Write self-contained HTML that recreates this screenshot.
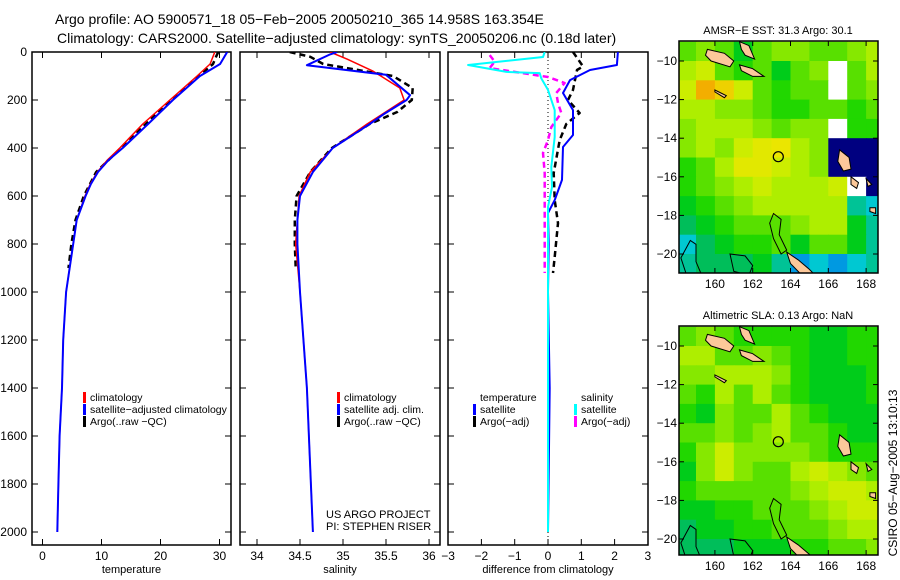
<!DOCTYPE html>
<html><head><meta charset="utf-8"><style>
body{margin:0;background:#fff}
svg{display:block;font-family:"Liberation Sans",sans-serif}
</style></head><body>
<svg id="fig" width="900" height="580" viewBox="0 0 900 580">
<defs>
<clipPath id="c1"><rect x="32" y="52" width="199" height="493"/></clipPath>
<clipPath id="c2"><rect x="240" y="52" width="200" height="493"/></clipPath>
<clipPath id="c3"><rect x="448" y="52" width="200" height="493"/></clipPath>
<clipPath id="cm1"><rect x="679" y="41" width="199" height="232"/></clipPath>
<clipPath id="cm2"><rect x="679" y="326" width="199" height="229"/></clipPath>
</defs>
<text x="55" y="24" font-size="14">Argo profile: AO 5900571_18 05−Feb−2005 20050210_365 14.958S 163.354E</text>
<text x="57" y="43" font-size="14">Climatology: CARS2000. Satellite−adjusted climatology: synTS_20050206.nc (0.18d later)</text>
<g id="g1"></g>
<g id="g2"></g>
<g id="g3"></g>
<g id="m1"></g>
<g id="m2"></g>
<text transform="translate(897,473) rotate(-90)" text-anchor="middle" font-size="12">CSIRO 05−Aug−2005 13:10:13</text>
</svg>
<script>
// ---------- profile data ----------
const tDepth = [0,50,100,200,300,400,450,500,550,600,700,800,1000,1200,1400,1600,1800,2000];
const tClim  = [29.2,28.4,26.2,21.6,17.0,13.1,11.0,9.3,8.1,7.2,5.8,5.2,4.0,3.5,3.3,2.9,2.7,2.5];
const tSat   = [31.3,30.1,26.7,22.1,17.9,13.6,11.2,9.4,8.2,7.3,5.8,5.2,4.0,3.5,3.3,2.9,2.7,2.5];
const argoDepth = [0,20,50,100,150,200,250,300,400,500,600,700,800,900];
const tArgo  = [29.8,29.4,28.9,26.5,24.3,21.8,19.6,17.5,13.3,9.1,7.0,5.6,4.9,4.4];
const sDepthSat = [0,10,55,95,180,200,260,300,400,500,600,700,800,1000,1400,2000];
const sSat   = [34.93,34.85,34.58,35.5,35.78,35.74,35.47,35.31,34.88,34.65,34.5,34.47,34.47,34.5,34.58,34.65];
const sDepthClim = [0,30,80,150,200,300,400,500,600,800,1000,1400,2000];
const sClim  = [34.85,35.05,35.35,35.66,35.71,35.28,34.88,34.62,34.49,34.45,34.5,34.58,34.65];
const sArgo  = [34.38,34.62,34.77,35.58,35.81,35.8,35.63,35.31,34.87,34.62,34.46,34.44,34.44,34.45];
const dDepthT = [0,54,75,117,171,242,346,396,533,617,671,800,1000,1400,2000];
const dTSat   = [2.1,2.07,1.26,0.66,0.45,0.75,0.75,0.45,0.42,0.2,0.0,0.02,0.0,0.05,0.0];
const dDepthTA = [0,60,75,158,200,254,300,367,504,617,713,854,921];
const dTArgo  = [0.75,1.05,0.87,0.75,0.6,0.95,0.55,0.35,0.17,0.2,0.3,0.2,0.15];
const dDepthS = [0,21,54,83,88,110,158,242,354,479,563,646,1000,2000];
const dSSat   = [-0.1,-0.15,-2.4,-1.25,-0.25,-0.2,0.0,0.2,0.2,0.1,0.12,0.0,0.0,0.0];
const dDepthSA = [13,40,67,104,129,171,213,254,313,367,421,504,646,921];
const dSArgo  = [-1.75,-1.6,-1.75,0.0,0.5,0.25,0.3,0.4,0.1,0.0,-0.15,-0.1,-0.1,-0.1];
// ---------- map data (1-degree cells, rows lat -9..-21, cols lon 158..169; -1 missing, -2 masked) ----------
const mapLon0 = 158, mapLat0 = -9;
const sstGrid = [
[0.6,0.65,0.6,0.5,0.6,0.65,0.65,0.6,0.6,0.65,0.7],
[0.7,0.75,0.6,0.55,0.6,0.5,0.6,0.65,-1,0.6,0.7],
[0.75,0.9,0.85,0.75,0.6,0.55,0.6,0.6,-1,0.6,0.65],
[0.7,0.7,0.65,0.65,0.6,0.55,0.55,0.6,0.6,0.55,0.6],
[0.65,0.7,0.7,0.7,0.65,0.6,0.65,0.65,-1,0.55,0.55],
[0.65,0.7,0.65,0.75,0.8,0.82,0.7,0.65,-2,-2,-2],
[0.55,0.6,0.7,0.8,0.8,0.75,0.7,0.65,-2,-2,-2],
[0.55,0.6,0.65,0.7,0.75,0.7,0.7,0.7,0.75,-1,-2],
[0.5,0.55,0.6,0.65,0.7,0.7,0.7,0.7,0.7,0.4,0.35],
[0.45,0.5,0.55,0.6,0.6,0.6,0.65,0.7,0.7,0.5,0.4],
[0.35,0.45,0.5,0.55,0.55,0.6,0.5,0.6,0.6,0.5,0.4],
[0.4,0.45,0.45,0.45,0.5,0.4,0.3,0.35,0.3,0.35,0.4]];
const slaGrid = [
[0.6,0.65,0.6,0.55,0.55,0.55,0.55,0.5,0.5,0.55,0.55],
[0.7,0.7,0.6,0.6,0.65,0.6,0.55,0.5,0.5,0.55,0.55],
[0.65,0.65,0.7,0.7,0.7,0.65,0.55,0.5,0.5,0.5,0.55],
[0.6,0.55,0.7,0.6,0.7,0.6,0.55,0.5,0.5,0.5,0.55],
[0.55,0.5,0.65,0.6,0.6,0.7,0.6,0.55,0.5,0.5,0.5],
[0.6,0.6,0.65,0.6,0.65,0.7,0.6,0.6,0.55,0.5,0.5],
[0.55,0.65,0.75,0.65,0.65,0.65,0.65,0.6,0.55,0.55,0.55],
[0.5,0.65,0.75,0.65,0.6,0.6,0.7,0.75,0.7,0.65,0.6],
[0.55,0.6,0.6,0.6,0.6,0.6,0.65,0.7,0.75,0.75,0.7],
[0.5,0.5,0.55,0.55,0.6,0.6,0.6,0.65,0.7,0.75,0.75],
[0.45,0.5,0.5,0.55,0.55,0.6,0.6,0.6,0.65,0.7,0.7],
[0.45,0.45,0.45,0.5,0.5,0.5,0.55,0.55,0.6,0.6,0.65]];
const islands = [
[[159.6,-9.4],[160.5,-9.6],[161.0,-10.0],[160.8,-10.3],[159.8,-10.0],[159.5,-9.7]],
[[161.3,-9.0],[161.8,-9.2],[162.1,-9.9],[161.6,-9.7],[161.4,-9.4]],
[[161.3,-10.2],[162.0,-10.4],[162.6,-10.8],[162.0,-10.8],[161.4,-10.5]],
[[160.0,-11.5],[160.6,-11.8],[160.5,-11.9],[160.0,-11.6]],
[[166.6,-14.6],[167.1,-15.0],[167.2,-15.6],[166.8,-15.7],[166.5,-15.2]],
[[167.2,-16.0],[167.6,-16.3],[167.5,-16.6],[167.2,-16.4]],
[[168.0,-16.1],[168.3,-16.4],[168.1,-16.5]],
[[168.2,-17.6],[168.5,-17.6],[168.5,-17.9],[168.2,-17.8]],
[[163.8,-19.9],[164.4,-20.3],[165.0,-20.8],[165.3,-21.1],[164.6,-21.1],[164.0,-20.5]]];
const reefs = [
[[163.1,-17.9],[163.5,-18.2],[163.4,-19.0],[163.8,-19.8],[163.5,-20.0],[163.1,-19.2],[162.9,-18.4]],
[[158.2,-20.2],[158.7,-19.3],[159.0,-19.5],[159.0,-20.4],[159.3,-21.1],[158.5,-21.1]],
[[160.8,-20.0],[161.6,-20.1],[162.0,-20.6],[161.8,-21.1],[161.0,-20.9]]];
const argoLon = 163.354, argoLat = -14.958;

const NS='http://www.w3.org/2000/svg';
function mk(par,tag,attrs){const e=document.createElementNS(NS,tag);for(const k in attrs)e.setAttribute(k,attrs[k]);par.appendChild(e);return e;}
const py = z => 52 + 0.24*z;
const p1x = t => 42.5 + 5.9*t;
const p2x = s => 257 + 86*(s-34);
const p3x = d => 548 + 33.3*d;

function frame(g,x0,x1,xt,sx,labels,title){
  const r=mk(g,'rect',{x:x0,y:52,width:x1-x0,height:493,fill:'none',stroke:'#000','stroke-width':1.5});
  
  
  for(let z=0;z<=2000;z+=200){
    const y=py(z);
    mk(g,'line',{x1:x0,x2:x0+6,y1:y,y2:y,stroke:'#000'});
    mk(g,'line',{x1:x1-6,x2:x1,y1:y,y2:y,stroke:'#000'});
    if(labels){const t=mk(g,'text',{x:27,y:y+4,'text-anchor':'end','font-size':12});t.textContent=z;
      
      }
  }
  xt.forEach(v=>{const x=sx(v);
    if(x>x0+1&&x<x1-1){mk(g,'line',{x1:x,x2:x,y1:52,y2:58,stroke:'#000'});mk(g,'line',{x1:x,x2:x,y1:539,y2:545,stroke:'#000'});}
    const t=mk(g,'text',{x:x,y:560,'text-anchor':'middle','font-size':12});t.textContent=(v<0?'−'+(-v):v);
    
    });
  const tt=mk(g,'text',{x:(x0+x1)/2,y:573,'text-anchor':'middle','font-size':11});tt.textContent=title;
  
  
}
function line(g,xs,zs,sx,color,w,dash,name,clip){
  const d=xs.map((v,i)=>(i?'L':'M')+sx(v).toFixed(1)+' '+py(zs[i]).toFixed(1)).join('');
  const p=mk(g,'path',{d:d,fill:'none',stroke:color,'stroke-width':w,'stroke-dasharray':dash||'none','clip-path':'url(#'+clip+')','stroke-linejoin':'round'});
  
  
}
function legend(g,x,y,items){
  items.forEach((it,i)=>{
    if(it[1]){const b=mk(g,'rect',{x:x,y:y+i*12-8,width:3,height:11,fill:it[1]});
      
      }
    const t=mk(g,'text',{x:x+7,y:y+i*12+1,'font-size':10.5});t.textContent=it[0];
    
    
  });
}
const g1=document.getElementById('g1'),g2=document.getElementById('g2'),g3=document.getElementById('g3');
frame(g1,32,231,[0,10,20,30],p1x,true,'temperature');
line(g1,tArgo,argoDepth,p1x,'#000',2.5,'6,4','temp-argo-line','c1');
line(g1,tClim,tDepth,p1x,'#f00',1.5,null,'temp-climatology-line','c1');
line(g1,tSat,tDepth,p1x,'#00f',2,null,'temp-satellite-line','c1');
legend(g1,83,400,[['climatology','#f00'],['satellite−adjusted climatology','#00f'],['Argo(..raw −QC)','#000']]);

frame(g2,240,440,[34,34.5,35,35.5,36],p2x,false,'salinity');
line(g2,sArgo,argoDepth,p2x,'#000',2.5,'6,4','sal-argo-line','c2');
line(g2,sClim,sDepthClim,p2x,'#f00',1.5,null,'sal-climatology-line','c2');
line(g2,sSat,sDepthSat,p2x,'#00f',2,null,'sal-satellite-line','c2');
legend(g2,337,400,[['climatology','#f00'],['satellite adj. clim.','#00f'],['Argo(..raw −QC)','#000']]);
const us=mk(g2,'text',{x:326,y:518,'font-size':11});us.textContent='US ARGO PROJECT';


const pi=mk(g2,'text',{x:326,y:530,'font-size':11});pi.textContent='PI: STEPHEN RISER';



frame(g3,448,648,[-3,-2,-1,0,1,2,3],p3x,false,'difference from climatology');
const zl=mk(g3,'line',{x1:p3x(0),x2:p3x(0),y1:52,y2:545,stroke:'#000','stroke-dasharray':'1,3'});


line(g3,dTArgo,dDepthTA,p3x,'#000',2.5,'6,4','diff-temp-argo-line','c3');
line(g3,dSArgo,dDepthSA,p3x,'#f0f',2.5,'6,4','diff-sal-argo-line','c3');
line(g3,dTSat,dDepthT,p3x,'#00f',2,null,'diff-temp-satellite-line','c3');
line(g3,dSSat,dDepthS,p3x,'#0ff',2,null,'diff-sal-satellite-line','c3');
legend(g3,473,400,[['temperature',null],['satellite','#00f'],['Argo(−adj)','#000']]);
legend(g3,574,400,[['salinity',null],['satellite','#0ff'],['Argo(−adj)','#f0f']]);

// ---------- maps ----------
function cmap(v){
  if(v===-1) return '#ffffff';
  if(v===-2) return '#000080';
  const stops=[[0,[0,0,140]],[0.2,[0,60,255]],[0.35,[0,200,210]],[0.45,[0,190,90]],[0.52,[0,210,0]],[0.62,[110,228,0]],[0.72,[190,240,0]],[0.82,[235,230,0]],[0.92,[245,160,0]],[1,[240,90,0]]];
  for(let i=1;i<stops.length;i++){if(v<=stops[i][0]){const a=stops[i-1],b=stops[i],f=(v-a[0])/(b[0]-a[0]);
    return 'rgb('+a[1].map((c,j)=>Math.round(c+(b[1][j]-c)*f)).join(',')+')';}}
  return 'rgb(240,90,0)';
}
function drawMap(gid,grid,top,bottom,lat10y,title,clip){
  const g=document.getElementById(gid);
  const mx=lon=>679+(lon-158.1)*18.9;
  const my=lat=>lat10y+(-10-lat)*19.3;
  const cg=mk(g,'g',{'clip-path':'url(#'+clip+')'});
  grid.forEach((row,r)=>row.forEach((v,c)=>{
    const x=mx(mapLon0+c),y=my(mapLat0-r);
    const cell=mk(cg,'rect',{x:x.toFixed(1),y:y.toFixed(1),width:19.5,height:19.8,fill:cmap(v)});
    
    
  }));
  islands.forEach(poly=>{const p=mk(cg,'polygon',{points:poly.map(q=>mx(q[0]).toFixed(1)+','+my(q[1]).toFixed(1)).join(' '),fill:'#fcc89a',stroke:'#000','stroke-width':1});
    
    });
  reefs.forEach(poly=>{const p=mk(cg,'polygon',{points:poly.map(q=>mx(q[0]).toFixed(1)+','+my(q[1]).toFixed(1)).join(' '),fill:'none',stroke:'#000','stroke-width':1});
    
    });
  const ci=mk(cg,'circle',{cx:mx(argoLon),cy:my(argoLat),r:5,fill:'none',stroke:'#000','stroke-width':1.2});
  
  
  const fr=mk(g,'rect',{x:679,y:top,width:199,height:bottom-top,fill:'none',stroke:'#000','stroke-width':1.5});
  
  
  for(let lat=-10;lat>=-20;lat-=2){const y=my(lat);
    mk(g,'line',{x1:679,x2:684,y1:y,y2:y,stroke:'#000'});mk(g,'line',{x1:873,x2:878,y1:y,y2:y,stroke:'#000'});
    const t=mk(g,'text',{x:677,y:y+4,'text-anchor':'end','font-size':12});t.textContent='−'+(-lat);
    
    }
  for(let lon=160;lon<=168;lon+=2){const x=mx(lon);
    mk(g,'line',{x1:x,x2:x,y1:top,y2:top+5,stroke:'#000'});mk(g,'line',{x1:x,x2:x,y1:bottom-5,y2:bottom,stroke:'#000'});
    const t=mk(g,'text',{x:x,y:bottom+15,'text-anchor':'middle','font-size':12});t.textContent=lon;
    
    }
  const tt=mk(g,'text',{x:778,y:top-7,'text-anchor':'middle','font-size':11});tt.textContent=title;
  
  
}
drawMap('m1',sstGrid,41,273,61,'AMSR−E SST: 31.3 Argo: 30.1','cm1');
drawMap('m2',slaGrid,326,555,346,'Altimetric SLA: 0.13 Argo: NaN','cm2');
</script>
</body></html>
